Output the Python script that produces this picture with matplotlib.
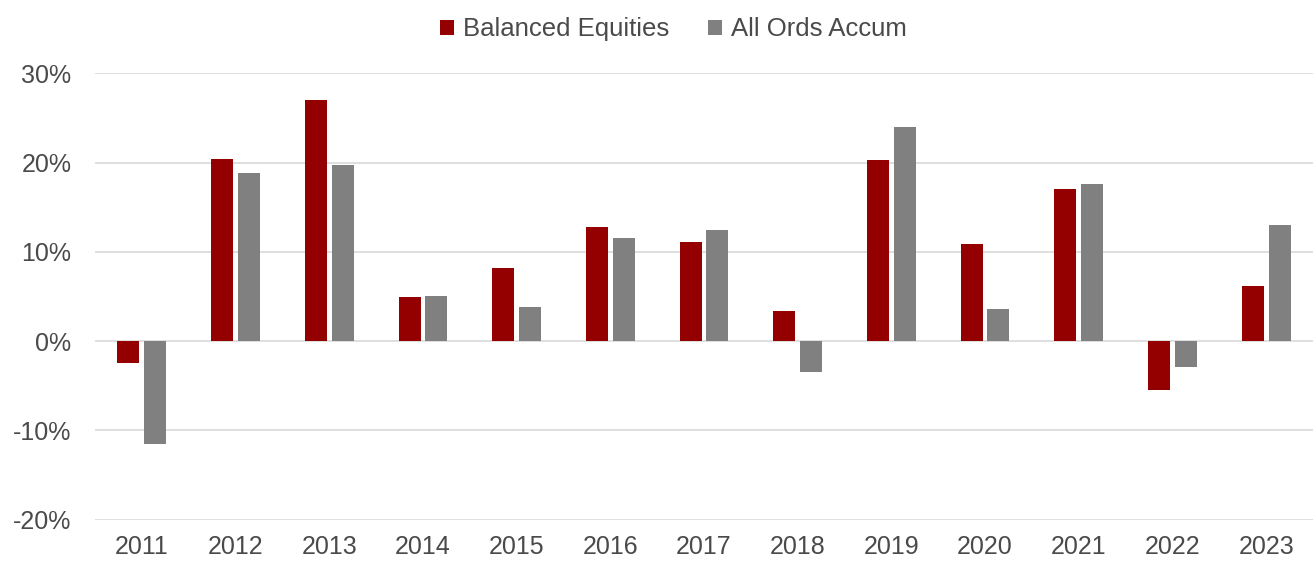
import numpy as np
import matplotlib
matplotlib.use('Agg')
import matplotlib.pyplot as plt
from matplotlib.ticker import FuncFormatter

years = ['2011','2012','2013','2014','2015','2016','2017','2018','2019','2020','2021','2022','2023']
balanced = [-2.5, 20.4, 27.0, 4.9, 8.2, 12.8, 11.1, 3.4, 20.3, 10.9, 17.1, -5.5, 6.2]
all_ords = [-11.5, 18.9, 19.7, 5.1, 3.8, 11.6, 12.5, -3.5, 24.0, 3.6, 17.6, -2.9, 13.0]

plt.rcParams['font.family'] = ['Liberation Sans', 'DejaVu Sans']
txt = '#4a4a4a'

fig = plt.figure(figsize=(13.13, 5.63), dpi=100)
ax = fig.add_axes([95/1313, (563 - 519.5)/563, 1218/1313, 446/563])

x = np.arange(len(years))
w = 0.235
ax.bar(x - 0.143, balanced, w, color='#940000', label='Balanced Equities', zorder=3)
ax.bar(x + 0.143, all_ords, w, color='#808080', label='All Ords Accum', zorder=3)

ax.set_xlim(-0.5, len(years) - 0.5)
ax.set_ylim(-20, 30)
ax.set_yticks([-20, -10, 0, 10, 20, 30])
ax.yaxis.set_major_formatter(FuncFormatter(lambda v, p: '%d%%' % v))
ax.set_xticks(x)
ax.set_xticklabels(years)
ax.grid(axis='y', color='#d9d9d9', linewidth=1.2, zorder=0)
for s in ax.spines.values():
    s.set_visible(False)
ax.tick_params(length=0, labelsize=18, labelcolor=txt, pad=11)
ax.tick_params(axis='y', pad=17)

leg = ax.legend(loc='center', bbox_to_anchor=(0.475, 1 + 44/446), ncol=2, frameon=False,
                fontsize=18.5, handlelength=0.55, handleheight=0.55, handletextpad=0.35,
                columnspacing=1.5, borderaxespad=0)
for t in leg.get_texts():
    t.set_color(txt)

fig.savefig('out.png', dpi=100)
